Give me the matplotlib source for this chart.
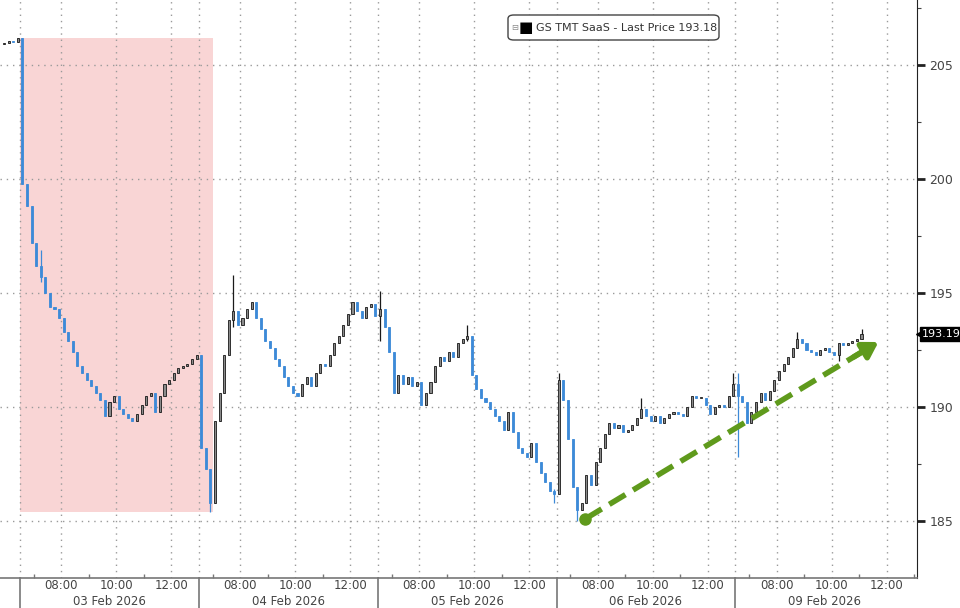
"""GS TMT SaaS basket, intraday 10-minute candles, 03-09 Feb 2026."""

import matplotlib
matplotlib.use("Agg")
import matplotlib.pyplot as plt
import matplotlib.transforms as mtransforms
from matplotlib.patches import FancyBboxPatch, Rectangle

# session layout: each trading day is shown 06:30-13:00, bars are 10 minutes
SESSION_START = 6.5
SESSION_HOURS = 6.5
BAR_HOURS = 10 / 60

DAY_LABELS = ["03 Feb 2026", "04 Feb 2026", "05 Feb 2026", "06 Feb 2026", "09 Feb 2026"]
HOUR_LABELS = ["08:00", "10:00", "12:00"]
HOUR_TICKS = [8, 10, 12]
MINOR_HOURS = [7, 9, 11]

# tail of the previous session (02 Feb), closes
PREV_OPEN = 205.9
PREV_CLOSES = [205.95, 206.05, 206.0, 206.2]

# closes per session, 10-minute bars
CLOSES = [
    [199.8, 198.8, 197.2, 196.2, 195.7, 195.0, 194.4, 194.3, 193.9, 193.3,
     192.9, 192.4, 191.8, 191.5, 191.2, 190.9, 190.6, 190.3, 189.6, 190.2,
     190.5, 189.9, 189.7, 189.5, 189.4, 189.7, 190.1, 190.5, 190.6, 189.8,
     190.5, 191.0, 191.2, 191.5, 191.7, 191.8, 191.9, 192.1, 192.3],
    [188.2, 187.3, 185.8, 189.4, 190.6, 192.3, 193.8, 194.2, 193.6, 193.9,
     194.3, 194.6, 193.9, 193.4, 192.9, 192.6, 192.1, 191.8, 191.3, 190.9,
     190.6, 190.5, 191.0, 191.3, 190.9, 191.5, 191.9, 191.8, 192.3, 192.8,
     193.1, 193.6, 194.1, 194.6, 194.2, 193.9, 194.4, 194.5, 194.0],
    [194.3, 193.5, 192.4, 190.6, 191.4, 191.0, 191.3, 190.9, 191.1, 190.1,
     190.6, 191.1, 191.8, 192.2, 192.0, 192.4, 192.2, 192.8, 193.0, 193.1,
     191.4, 190.8, 190.4, 190.2, 189.9, 189.6, 189.4, 189.0, 189.8, 188.9,
     188.2, 188.0, 187.8, 188.4, 187.6, 187.1, 186.7, 186.3, 186.2],
    [191.2, 190.3, 188.6, 186.5, 185.5, 185.8, 187.0, 186.6, 187.6, 188.2,
     188.8, 189.3, 189.1, 189.2, 188.9, 189.0, 189.2, 189.5, 189.9, 189.6,
     189.4, 189.6, 189.3, 189.5, 189.7, 189.8, 189.7, 189.6, 190.0, 190.5,
     190.4, 190.4, 190.1, 189.7, 190.0, 190.1, 190.0, 190.5, 191.0],
    [190.5, 190.2, 189.3, 189.8, 190.2, 190.6, 190.3, 190.7, 191.2, 191.6,
     191.9, 192.2, 192.6, 193.0, 192.8, 192.5, 192.4, 192.3, 192.5, 192.6,
     192.4, 192.3, 192.8, 192.7, 192.8, 192.9, 193.0, 193.18],
]

# wicks that stick out beyond the bodies: (day, bar) -> (high, low)
WICKS = {
    (0, 4): (196.9, 195.5),
    (1, 2): (187.3, 185.4),
    (1, 7): (195.8, 193.5),
    (2, 0): (195.1, 192.9),
    (2, 19): (193.6, 192.9),
    (2, 38): (186.4, 185.8),
    (3, 0): (191.5, 186.2),
    (3, 4): (186.5, 185.0),
    (3, 18): (190.4, 189.5),
    (3, 38): (191.5, 190.5),
    (4, 0): (191.5, 187.8),
    (4, 13): (193.3, 192.6),
    (4, 22): (192.8, 192.0),
    (4, 27): (193.4, 193.0),
}

LAST_PRICE = 193.19
LEGEND_TEXT = "GS TMT SaaS - Last Price 193.18"

# highlighted sell-off window and trend arrow (hours on the session axis, price)
SELLOFF_X = (0.0, 7.02)
SELLOFF_Y = (185.4, 206.2)
TREND_START = (20.55, 185.1)
TREND_END = (31.2, 192.85)

Y_TICKS = [185, 190, 195, 200, 205]
Y_LIM = (182.5, 207.85)
X_LIM = (-0.73, 32.6)

UP_FILL = "#8a8a8a"
UP_EDGE = "#1a1a1a"
DOWN = "#3d8ad8"
GRID = "#9a9a9a"
TEXT = "#444444"


def session_x(day, hour):
    return day * SESSION_HOURS + (hour - SESSION_START)


def build_bars():
    xs, opens, closes, highs, lows = [], [], [], [], []
    prev = PREV_OPEN
    n = len(PREV_CLOSES)
    for i, c in enumerate(PREV_CLOSES):
        xs.append(-(n - i - 0.5) * BAR_HOURS)
        opens.append(prev)
        closes.append(c)
        highs.append(max(prev, c))
        lows.append(min(prev, c))
        prev = c
    for d, day in enumerate(CLOSES):
        for i, c in enumerate(day):
            xs.append(d * SESSION_HOURS + (i + 0.5) * BAR_HOURS)
            opens.append(prev)
            closes.append(c)
            hi, lo = WICKS.get((d, i), (max(prev, c), min(prev, c)))
            highs.append(max(hi, prev, c))
            lows.append(min(lo, prev, c))
            prev = c
    return xs, opens, closes, highs, lows


fig = plt.figure(figsize=(9.6, 6.08), dpi=100)
ax = fig.add_axes([0, 30 / 608, 917 / 960, 578 / 608])
ax.set_xlim(*X_LIM)
ax.set_ylim(*Y_LIM)

ax.add_patch(Rectangle((SELLOFF_X[0], SELLOFF_Y[0]), SELLOFF_X[1] - SELLOFF_X[0],
                       SELLOFF_Y[1] - SELLOFF_Y[0], facecolor="#f9d5d5",
                       edgecolor="none", zorder=0))

# dotted grid: price levels, even hours and day boundaries
grid_kw = dict(color=GRID, linestyle=(0, (1, 3.5)), linewidth=1.0, zorder=1)
for y in Y_TICKS:
    ax.axhline(y, **grid_kw)
for d in range(len(DAY_LABELS)):
    ax.axvline(session_x(d, SESSION_START), **grid_kw)
    for h in HOUR_TICKS:
        ax.axvline(session_x(d, h), **grid_kw)

xs, opens, closes, highs, lows = build_bars()
width = BAR_HOURS * 0.45
for x, o, c, hi, lo in zip(xs, opens, closes, highs, lows):
    up = c >= o
    edge = UP_EDGE if up else DOWN
    ax.vlines(x, lo, hi, color=edge, linewidth=0.9, zorder=3)
    body = max(abs(c - o), 0.04)
    ax.bar(x, body, bottom=min(o, c), width=width,
           color=UP_FILL if up else DOWN, edgecolor=edge, linewidth=0.6, zorder=4)

# trend arrow
green = "#5f9a1c"
ax.plot([TREND_START[0], TREND_END[0] - 0.55],
        [TREND_START[1], TREND_END[1] - 0.40],
        color=green, linewidth=4, linestyle=(0, (3.4, 1.6)),
        solid_capstyle="butt", zorder=6)
ax.plot(*TREND_START, marker="o", markersize=8, color=green, zorder=6)
ax.annotate("", xy=TREND_END, xytext=(TREND_END[0] - 0.9, TREND_END[1] - 0.655),
            arrowprops=dict(arrowstyle="-|>,head_length=0.9,head_width=0.55",
                            color=green, linewidth=4, shrinkA=0, shrinkB=0),
            zorder=6)

# axes styling
for side in ("top", "left"):
    ax.spines[side].set_visible(False)
ax.spines["right"].set_color("#222222")
ax.spines["bottom"].set_color("#777777")
ax.spines["bottom"].set_linewidth(1.2)

ax.yaxis.tick_right()
ax.set_yticks(Y_TICKS)
ax.set_yticklabels([str(v) for v in Y_TICKS], fontsize=9, color=TEXT)
ax.set_yticks([v + 2.5 for v in Y_TICKS], minor=True)
ax.tick_params(axis="y", which="major", direction="out", length=6, width=2,
               color="#222222", pad=3)
ax.tick_params(axis="y", which="minor", direction="out", length=3, width=0.8,
               color="#444444")

major_x, major_lbl, minor_x = [], [], []
for d in range(len(DAY_LABELS)):
    for h, lbl in zip(HOUR_TICKS, HOUR_LABELS):
        major_x.append(session_x(d, h))
        major_lbl.append(lbl)
    for h in MINOR_HOURS:
        minor_x.append(session_x(d, h))
minor_x.append(session_x(len(DAY_LABELS), SESSION_START))
ax.set_xticks(major_x)
ax.set_xticklabels(major_lbl, fontsize=8.5, color=TEXT)
ax.set_xticks(minor_x, minor=True)
ax.tick_params(axis="x", which="major", length=0, pad=1)
ax.tick_params(axis="x", which="minor", direction="in", length=3, width=1,
               color="#777777")

blend = mtransforms.blended_transform_factory(ax.transData, ax.transAxes)
for d, lbl in enumerate(DAY_LABELS):
    ax.text(session_x(d, SESSION_START + SESSION_HOURS / 2), -0.041, lbl,
            transform=blend, ha="center", va="center", fontsize=8.5, color=TEXT)
    ax.plot([session_x(d, SESSION_START)] * 2, [0, -0.06], transform=blend,
            color="#777777", linewidth=1.2, clip_on=False)

# last price tag on the right axis
tag = mtransforms.blended_transform_factory(ax.transAxes, ax.transData)
ax.plot(1.0055, LAST_PRICE, marker="<", markersize=9, color="black",
        transform=tag, clip_on=False, zorder=8)
ax.text(1.0265, LAST_PRICE, f"{LAST_PRICE:.2f}", transform=tag, ha="center",
        va="center", fontsize=8, color="white", zorder=9,
        bbox=dict(boxstyle="square,pad=0.2", facecolor="black", edgecolor="black"))

# legend box
fig.patches.append(FancyBboxPatch((508 / 960, 1 - 40 / 608), 211 / 960, 25 / 608,
                                  boxstyle="round,pad=0,rounding_size=0.006",
                                  transform=fig.transFigure, facecolor="white",
                                  edgecolor="#444444", linewidth=1.0, zorder=10))
fig.text(515 / 960, 1 - 28 / 608, "\u229f", fontsize=6, color="#888888",
         ha="center", va="center", zorder=11)
fig.text(526 / 960, 1 - 28 / 608, "\u25a0", fontsize=11, color="black",
         ha="center", va="center", zorder=11)
fig.text(536 / 960, 1 - 28 / 608, LEGEND_TEXT, fontsize=8, color="#333333",
         ha="left", va="center", zorder=11)

fig.savefig("out.png", dpi=100)
